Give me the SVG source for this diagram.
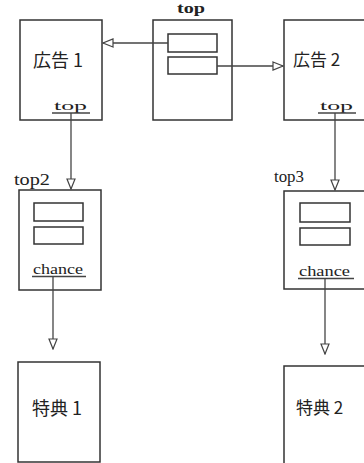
<svg xmlns="http://www.w3.org/2000/svg" width="364" height="463" viewBox="0 0 364 463">
<style>
.box{fill:#fff;stroke:#333;stroke-width:1.5}
.inner{fill:#fff;stroke:#333;stroke-width:1.5}
.conn{fill:none;stroke:#444;stroke-width:1.3}
.ul{stroke:#444;stroke-width:1.3}
.jp{font-family:"Noto Sans CJK JP","Noto Sans",sans-serif;font-size:18px;fill:#222}
.jp2{font-family:"Noto Sans CJK JP","Noto Sans",sans-serif;font-size:17px;fill:#222}
.lab{font-family:"Liberation Serif","DejaVu Serif",serif;fill:#222}
</style>
<defs>
<marker id="arr" markerUnits="userSpaceOnUse" markerWidth="12" markerHeight="10" refX="11" refY="5" orient="auto">
<path d="M1,1 L11,5 L1,9 Z" fill="#fff" stroke="#444" stroke-width="1.2"/>
</marker>
</defs>
<rect width="364" height="463" fill="#fff"/>
<g id="ad1">
<rect class="box" x="20" y="20" width="82" height="100"/>
<text class="jp" x="33" y="67">広告 1</text>
<text class="lab" x="54" y="110" font-size="13" textLength="33" lengthAdjust="spacingAndGlyphs">top</text>
<line class="ul" x1="52" y1="113" x2="90" y2="113"/>
</g>
<g id="top">
<text class="lab" x="177" y="13" font-size="15" font-weight="bold" textLength="28" lengthAdjust="spacingAndGlyphs">top</text>
<rect class="box" x="153" y="20" width="79" height="100"/>
<rect class="inner" x="168" y="34" width="49" height="18"/>
<rect class="inner" x="168" y="57" width="49" height="17"/>
</g>
<g id="ad2">
<rect class="box" x="284" y="20" width="100" height="100"/>
<text class="jp2" x="293" y="66">広告 2</text>
<text class="lab" x="320" y="110" font-size="13" textLength="33" lengthAdjust="spacingAndGlyphs">top</text>
<line class="ul" x1="318" y1="113" x2="356" y2="113"/>
</g>
<g id="top2">
<text class="lab" x="14" y="185" font-size="16" textLength="36" lengthAdjust="spacingAndGlyphs">top2</text>
<rect class="box" x="19" y="190" width="82" height="100"/>
<rect class="inner" x="34" y="203" width="49" height="18"/>
<rect class="inner" x="34" y="227" width="49" height="17"/>
<text class="lab" x="33" y="274" font-size="14" textLength="50" lengthAdjust="spacingAndGlyphs">chance</text>
<line class="ul" x1="32" y1="276.5" x2="86" y2="276.5"/>
</g>
<g id="top3">
<text class="lab" x="274" y="182" font-size="16" textLength="30" lengthAdjust="spacingAndGlyphs">top3</text>
<rect class="box" x="284" y="191" width="100" height="98"/>
<rect class="inner" x="300" y="203" width="50" height="19"/>
<rect class="inner" x="300" y="228" width="50" height="17"/>
<text class="lab" x="299" y="276" font-size="14" textLength="51" lengthAdjust="spacingAndGlyphs">chance</text>
<line class="ul" x1="298" y1="278.5" x2="354" y2="278.5"/>
</g>
<g id="bonus1">
<rect class="box" x="18" y="362" width="82" height="100"/>
<text class="jp" x="32" y="415">特典 1</text>
</g>
<g id="bonus2">
<rect class="box" x="284" y="366" width="100" height="110"/>
<text class="jp2" x="296" y="414">特典 2</text>
</g>
<g id="connectors">
<line class="conn" x1="168" y1="43" x2="103" y2="43" marker-end="url(#arr)"/>
<line class="conn" x1="217" y1="66" x2="283" y2="66" marker-end="url(#arr)"/>
<line class="conn" x1="71" y1="113" x2="71" y2="189" marker-end="url(#arr)"/>
<line class="conn" x1="335" y1="113" x2="335" y2="190" marker-end="url(#arr)"/>
<line class="conn" x1="53" y1="277" x2="53" y2="349" marker-end="url(#arr)"/>
<line class="conn" x1="325" y1="279" x2="325" y2="354" marker-end="url(#arr)"/>
</g>
</svg>
